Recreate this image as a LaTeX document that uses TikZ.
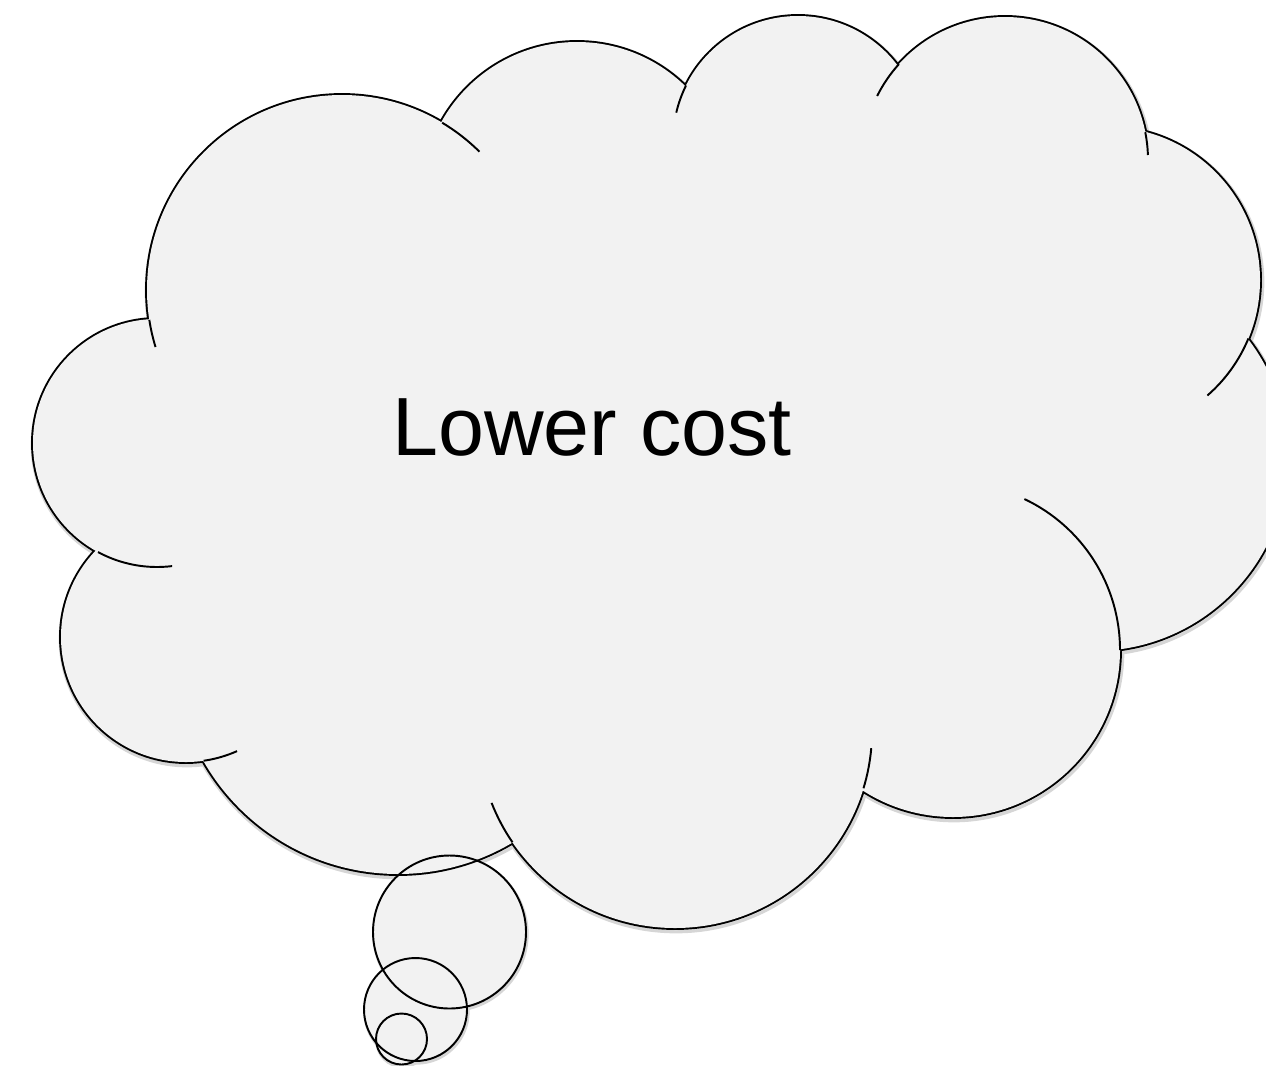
\documentclass[tikz,border=0pt]{standalone}
\usepackage{fontspec}
\setmainfont{Liberation Sans}
\usepackage{tikz}
\definecolor{cloudfill}{HTML}{F2F2F2}
\tikzset{every node/.append style={font=\fontsize{47}{56}\selectfont}}

\begin{document}
\begin{tikzpicture}[x=0.02cm, y=-0.02cm, line width=1.1pt,
    lobe/.style={draw=black, line width=2.2pt},
    lobeshadow/.style={draw=black!16, line width=3.8pt},
    crease/.style={draw=black, line width=1.1pt}]
    \useasboundingbox (0,0) rectangle (1266,1065);
    \clip (0,0) rectangle (1266,1065);
    \def\lobes{lone/157/443/124, tl/342/290/195, tm/577/197/155, trm/798/141/125, tr/1005/160/143, rone/1107/280/153, rtwo/1094/457/194, br/953/650/167, bm/675/731/197, bl/398/650/224, ll/186/637/125}
    \def\rim{442/123, 687/86, 900/65, 1147/132, 1247/338, 1119/650, 863/788, 513/842, 204/762, 98/552}
    \def\bubbles{449.5/932/76.5, 415.5/1009.5/51.5, 401.5/1039/25.5}
    % soft shadow
    \begin{scope}[shift={(1,2)}]
        \foreach \n/\x/\y/\r in \lobes {\draw[lobeshadow] (\x,\y) circle[radius=\r];}
        \foreach \n/\x/\y/\r in \lobes {\fill[white] (\x,\y) circle[radius=\r];}
        \fill[white] (148,320) \foreach \px/\py in \rim {-- (\px,\py)} -- cycle;
        \foreach \x/\y/\r in \bubbles {\draw[black!16, line width=1.9pt] (\x,\y) circle[radius=\r];}
    \end{scope}
    % cloud
    \foreach \x/\y/\r in \bubbles {\fill[cloudfill] (\x,\y) circle[radius=\r];}
    \foreach \n/\x/\y/\r in \lobes {\draw[lobe] (\x,\y) coordinate (\n) circle[radius=\r];}
    \foreach \n/\x/\y/\r in \lobes {\fill[cloudfill] (\x,\y) circle[radius=\r];}
    \fill[cloudfill] (148,320) \foreach \px/\py in \rim {-- (\px,\py)} -- cycle;
    \foreach \n/\r/\a/\b in {tl/195/163/171.2, tl/195/-59.1/-45.2, trm/125/193.1/206.4, tr/143/206.6/222.1, tr/143/-11.2/-2, rone/153/22.5/49, br/167/-64.7/0, bm/197/5/16.9, bm/197/145.6/158.6, ll/125/65.9/81.9, lone/124/83/118.4} {
        \draw[crease] (\n) ++(\a:\r) arc[start angle=\a, end angle=\b, radius=\r];
    }
    % thought bubbles
    \foreach \x/\y/\r in \bubbles {\draw (\x,\y) circle[radius=\r];}
    \node[anchor=base] (label) at (592,455) {Lower cost};
\end{tikzpicture}
\end{document}
